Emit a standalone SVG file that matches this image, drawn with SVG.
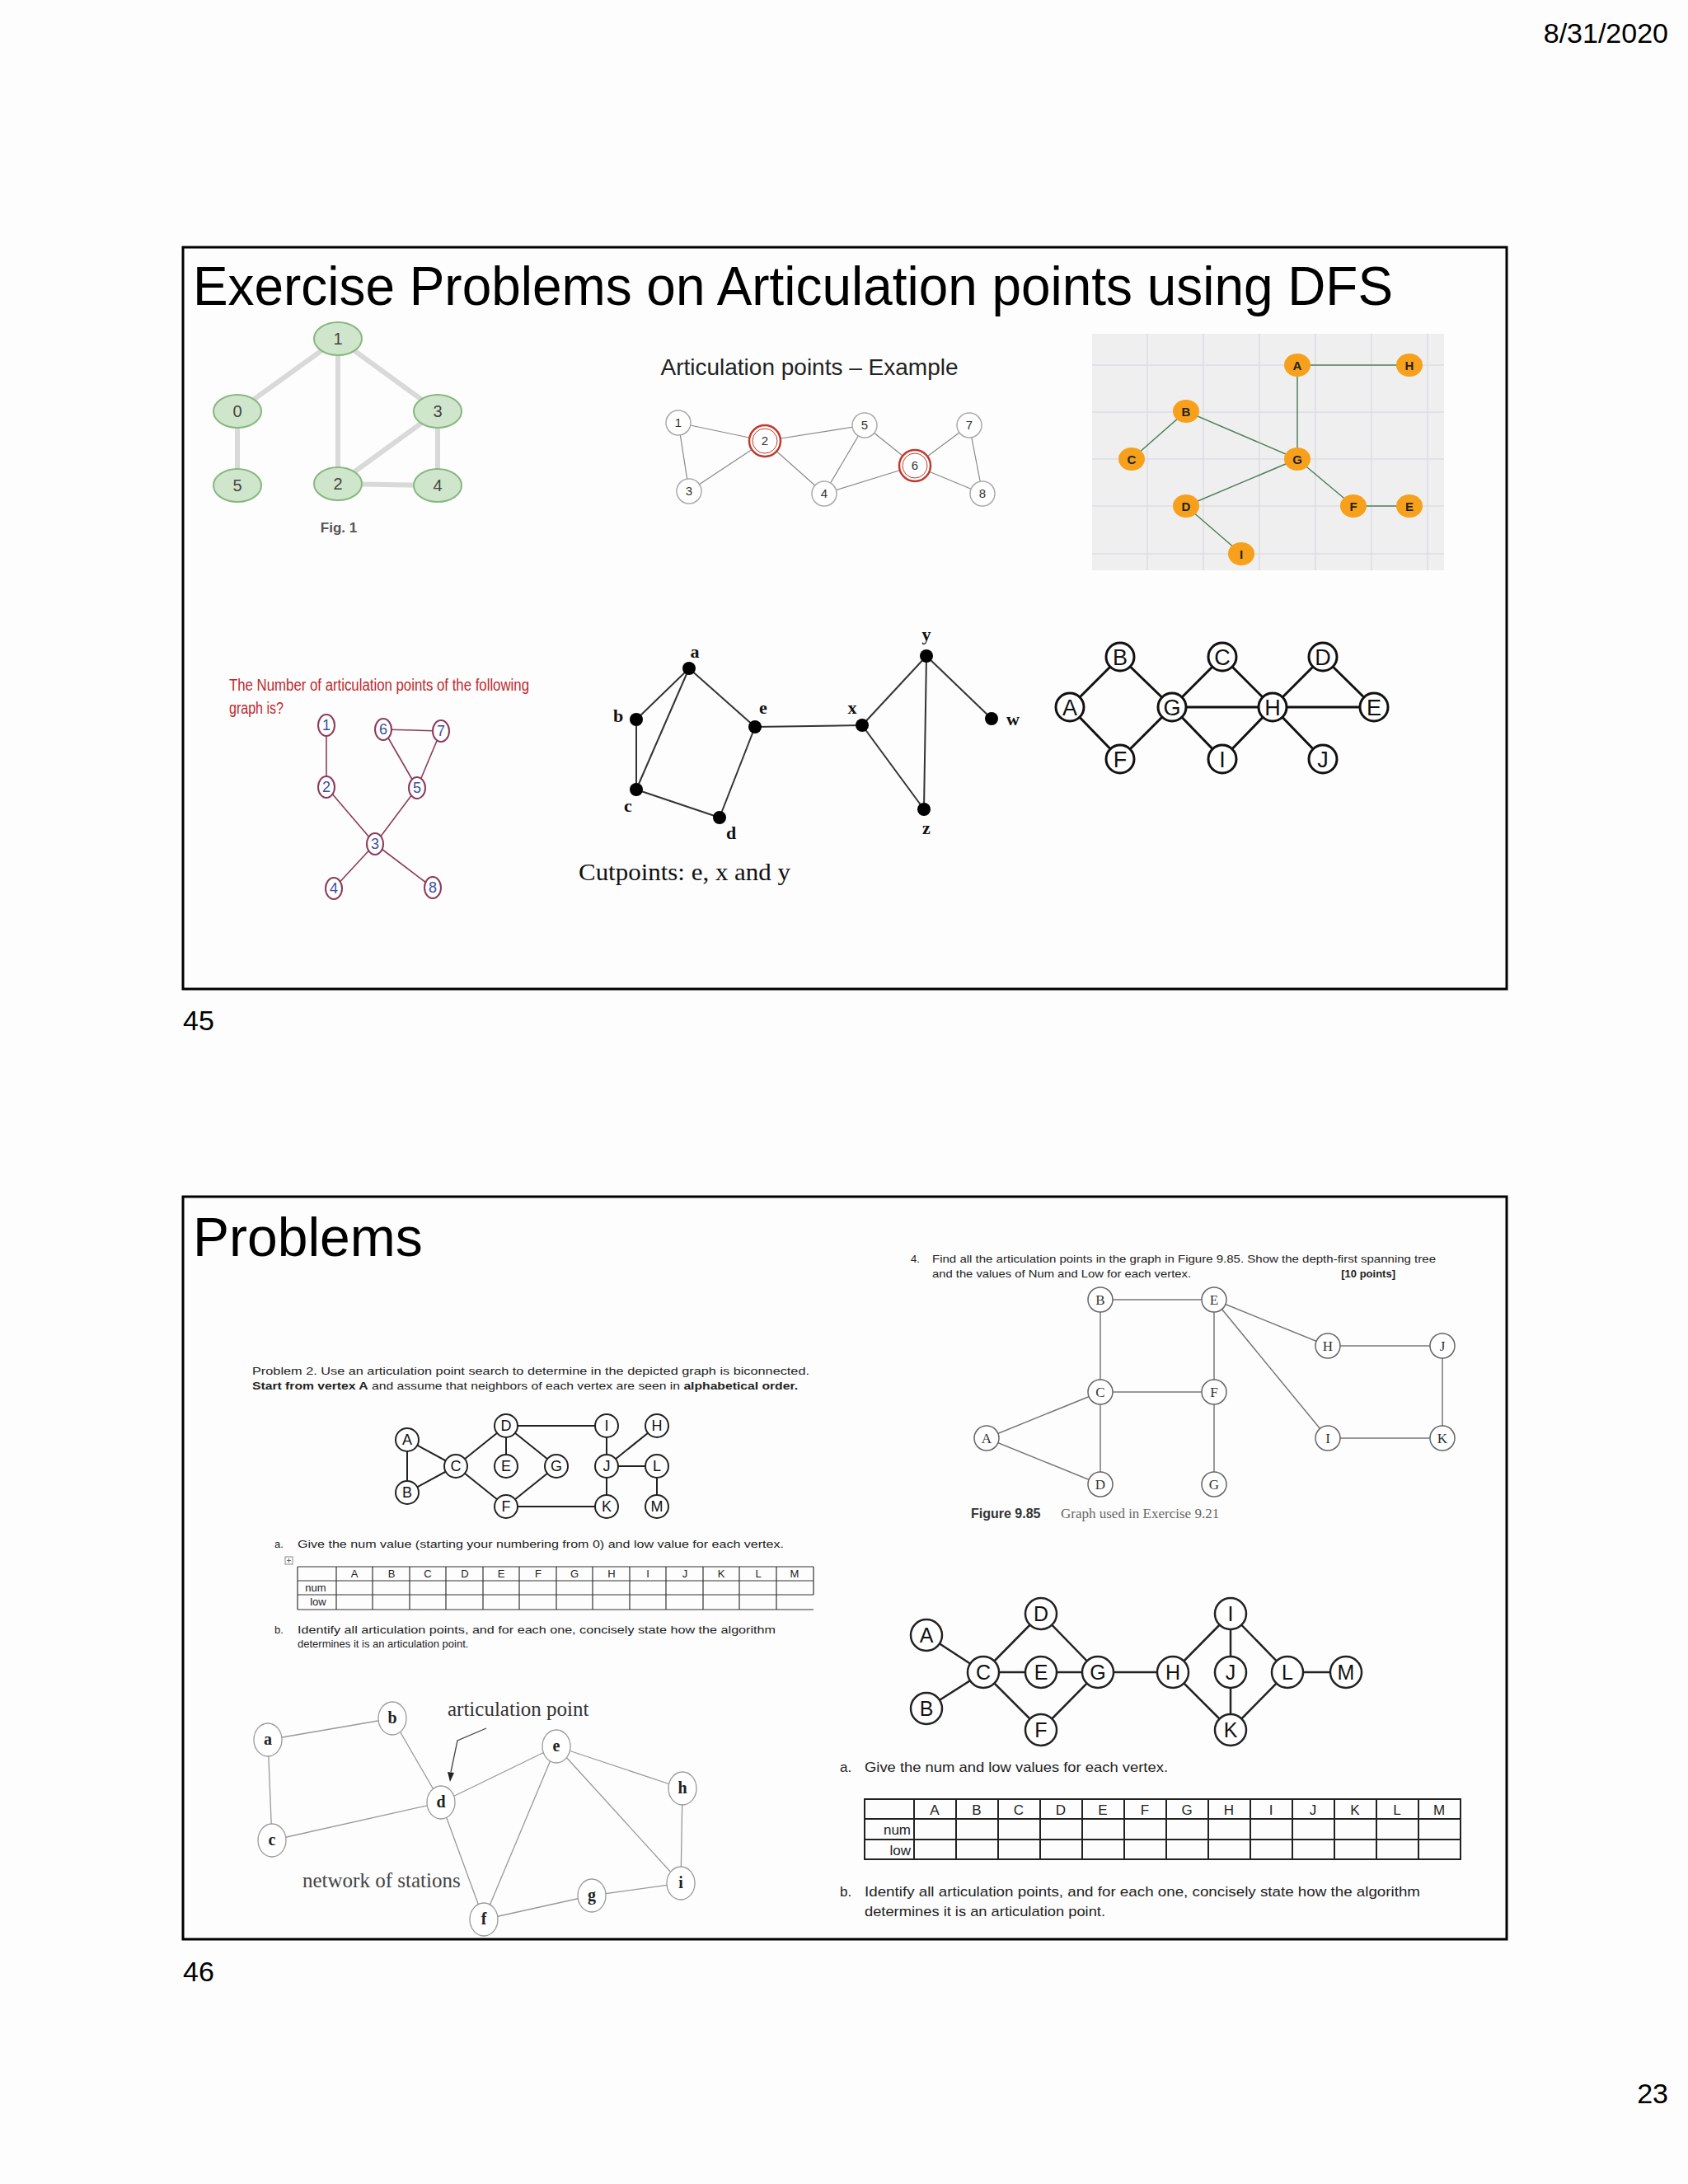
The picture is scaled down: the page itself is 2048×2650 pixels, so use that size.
<svg xmlns="http://www.w3.org/2000/svg" width="2048" height="2650" viewBox="0 0 2048 2650">
<style>
text{font-family:"Liberation Sans",Arial,sans-serif}
text.serif{font-family:"Liberation Serif","Times New Roman",serif}
.frame{fill:none;stroke:#000;stroke-width:3}
.big{font-size:66px;fill:#000}
.pg{font-size:34px;fill:#000}
.g1e{stroke:#d9d9d9;stroke-width:6;fill:none}
.g1n{fill:#d0e6cc;stroke:#86b87e;stroke-width:2}
.g1t{font-size:20px;fill:#444;text-anchor:middle}
.g2e{stroke:#888;stroke-width:1.2;fill:none}
.g2n{fill:#fff;stroke:#aaa;stroke-width:1.5}
.g2t{font-size:15px;fill:#333;text-anchor:middle}
.g3e{stroke:#4f7f5f;stroke-width:1.5;fill:none}
.g3n{fill:#f7a01b}
.g3t{font-size:15px;font-weight:bold;fill:#222;text-anchor:middle}
.g4e{stroke:#8b3a5a;stroke-width:1.6;fill:none}
.g4n{fill:#fff;stroke:#8b3a5a;stroke-width:2}
.g4t{font-size:18px;fill:#3a4fa0;text-anchor:middle}
.g5e{stroke:#333;stroke-width:2;fill:none}
text.g5t{font-family:"Liberation Serif",serif;font-size:22px;font-weight:bold;fill:#111;text-anchor:middle}
.g6e{stroke:#111;stroke-width:3;fill:none}
.g6n{fill:#fff;stroke:#111;stroke-width:3}
.g6t{font-size:27px;fill:#111;text-anchor:middle}
.g7e{stroke:#777;stroke-width:1.5;fill:none}
.g7n{fill:#fff;stroke:#666;stroke-width:1.5}
text.g7t{font-family:"Liberation Serif",serif;font-size:17px;fill:#333;text-anchor:middle}
.g8e{stroke:#222;stroke-width:2;fill:none}
.g8n{fill:#fff;stroke:#222;stroke-width:2}
.g8t{font-size:18px;fill:#111;text-anchor:middle}
.g9e{stroke:#999;stroke-width:1.3;fill:none}
.g9n{fill:#fff;stroke:#999;stroke-width:1.3}
text.g9t{font-family:"Liberation Serif",serif;font-size:20px;font-weight:bold;fill:#222;text-anchor:middle}
.gae{stroke:#222;stroke-width:2.5;fill:none}
.gan{fill:#fff;stroke:#222;stroke-width:2.5}
.gat{font-size:25px;fill:#111;text-anchor:middle}
.sm{font-size:13px;fill:#222}
.md{font-size:17px;fill:#222}
.tb{stroke:#333;stroke-width:1.2;fill:none}
.tb2{stroke:#222;stroke-width:2;fill:none}
</style>
<rect width="2048" height="2650" fill="#fdfdfd"/>
<text x="2024" y="52" class="pg" text-anchor="end">8/31/2020</text>

<!-- Slide 45 -->
<rect class="frame" x="222" y="300" width="1606" height="900"/>
<text x="234" y="370" class="big" textLength="1456" lengthAdjust="spacingAndGlyphs">Exercise Problems on Articulation points using DFS</text>
<text x="222" y="1250" class="pg">45</text>

<!-- Fig 1 -->
<g id="fig1">
<g id="fig1-edges">
<line class="g1e" x1="410" y1="411" x2="288" y2="499"/>
<line class="g1e" x1="410" y1="411" x2="410" y2="587"/>
<line class="g1e" x1="410" y1="411" x2="531" y2="499"/>
<line class="g1e" x1="288" y1="499" x2="288" y2="589"/>
<line class="g1e" x1="410" y1="587" x2="531" y2="499"/>
<line class="g1e" x1="531" y1="499" x2="531" y2="589"/>
<line class="g1e" x1="410" y1="587" x2="531" y2="589"/>
</g>
<g id="f1-n1"><ellipse class="g1n" cx="410" cy="411" rx="29" ry="20"/><text class="g1t" x="410" y="418">1</text></g>
<g id="f1-n0"><ellipse class="g1n" cx="288" cy="499" rx="29" ry="20"/><text class="g1t" x="288" y="506">0</text></g>
<g id="f1-n3"><ellipse class="g1n" cx="531" cy="499" rx="29" ry="20"/><text class="g1t" x="531" y="506">3</text></g>
<g id="f1-n5"><ellipse class="g1n" cx="288" cy="589" rx="29" ry="20"/><text class="g1t" x="288" y="596">5</text></g>
<g id="f1-n2"><ellipse class="g1n" cx="410" cy="587" rx="29" ry="20"/><text class="g1t" x="410" y="594">2</text></g>
<g id="f1-n4"><ellipse class="g1n" cx="531" cy="589" rx="29" ry="20"/><text class="g1t" x="531" y="596">4</text></g>
<text x="411" y="646" font-size="17" font-weight="bold" fill="#555" text-anchor="middle">Fig. 1</text>
</g>

<!-- Articulation points example -->
<g id="ap-example">
<text x="982" y="455" font-size="28" fill="#222" text-anchor="middle">Articulation points – Example</text>
<g id="ap-edges">
<line class="g2e" x1="823" y1="513" x2="928" y2="535"/>
<line class="g2e" x1="823" y1="513" x2="836" y2="596"/>
<line class="g2e" x1="928" y1="535" x2="836" y2="596"/>
<line class="g2e" x1="928" y1="535" x2="1049" y2="516"/>
<line class="g2e" x1="928" y1="535" x2="1000" y2="599"/>
<line class="g2e" x1="1049" y1="516" x2="1000" y2="599"/>
<line class="g2e" x1="1049" y1="516" x2="1110" y2="565"/>
<line class="g2e" x1="1000" y1="599" x2="1110" y2="565"/>
<line class="g2e" x1="1110" y1="565" x2="1176" y2="516"/>
<line class="g2e" x1="1110" y1="565" x2="1192" y2="599"/>
<line class="g2e" x1="1176" y1="516" x2="1192" y2="599"/>
</g>
<g id="ap-1"><circle class="g2n" cx="823" cy="513" r="15"/><text class="g2t" x="823" y="518">1</text></g>
<g id="ap-2"><circle fill="#fff" stroke="#c0392b" stroke-width="2.5" cx="928" cy="535" r="19"/><circle fill="none" stroke="#c0392b" stroke-width="1" cx="928" cy="535" r="15"/><text class="g2t" x="928" y="540">2</text></g>
<g id="ap-5"><circle class="g2n" cx="1049" cy="516" r="15"/><text class="g2t" x="1049" y="521">5</text></g>
<g id="ap-7"><circle class="g2n" cx="1176" cy="516" r="15"/><text class="g2t" x="1176" y="521">7</text></g>
<g id="ap-3"><circle class="g2n" cx="836" cy="596" r="15"/><text class="g2t" x="836" y="601">3</text></g>
<g id="ap-4"><circle class="g2n" cx="1000" cy="599" r="15"/><text class="g2t" x="1000" y="604">4</text></g>
<g id="ap-6"><circle fill="#fff" stroke="#c0392b" stroke-width="2.5" cx="1110" cy="565" r="19"/><circle fill="none" stroke="#c0392b" stroke-width="1" cx="1110" cy="565" r="15"/><text class="g2t" x="1110" y="570">6</text></g>
<g id="ap-8"><circle class="g2n" cx="1192" cy="599" r="15"/><text class="g2t" x="1192" y="604">8</text></g>
</g>

<!-- Orange graph -->
<g id="orange">
<rect x="1325" y="405" width="427" height="287" fill="#efefef"/>
<g stroke="#dcdce6" stroke-width="1.5">
<line x1="1392" y1="405" x2="1392" y2="692"/><line x1="1460" y1="405" x2="1460" y2="692"/><line x1="1528" y1="405" x2="1528" y2="692"/><line x1="1596" y1="405" x2="1596" y2="692"/><line x1="1664" y1="405" x2="1664" y2="692"/><line x1="1732" y1="405" x2="1732" y2="692"/>
<line x1="1325" y1="443" x2="1752" y2="443"/><line x1="1325" y1="500" x2="1752" y2="500"/><line x1="1325" y1="557" x2="1752" y2="557"/><line x1="1325" y1="614" x2="1752" y2="614"/><line x1="1325" y1="672" x2="1752" y2="672"/>
</g>
<g id="or-edges">
<line class="g3e" x1="1574" y1="443" x2="1710" y2="443"/>
<line class="g3e" x1="1574" y1="443" x2="1574" y2="557"/>
<line class="g3e" x1="1439" y1="499" x2="1373" y2="557"/>
<line class="g3e" x1="1439" y1="499" x2="1574" y2="557"/>
<line class="g3e" x1="1574" y1="557" x2="1439" y2="614"/>
<line class="g3e" x1="1574" y1="557" x2="1642" y2="614"/>
<line class="g3e" x1="1642" y1="614" x2="1710" y2="614"/>
<line class="g3e" x1="1439" y1="614" x2="1506" y2="672"/>
</g>
<g id="or-A"><ellipse class="g3n" cx="1574" cy="443" rx="16" ry="14"/><text class="g3t" x="1574" y="449">A</text></g>
<g id="or-H"><ellipse class="g3n" cx="1710" cy="443" rx="16" ry="14"/><text class="g3t" x="1710" y="449">H</text></g>
<g id="or-B"><ellipse class="g3n" cx="1439" cy="499" rx="16" ry="14"/><text class="g3t" x="1439" y="505">B</text></g>
<g id="or-C"><ellipse class="g3n" cx="1373" cy="557" rx="16" ry="14"/><text class="g3t" x="1373" y="563">C</text></g>
<g id="or-G"><ellipse class="g3n" cx="1574" cy="557" rx="16" ry="14"/><text class="g3t" x="1574" y="563">G</text></g>
<g id="or-D"><ellipse class="g3n" cx="1439" cy="614" rx="16" ry="14"/><text class="g3t" x="1439" y="620">D</text></g>
<g id="or-F"><ellipse class="g3n" cx="1642" cy="614" rx="16" ry="14"/><text class="g3t" x="1642" y="620">F</text></g>
<g id="or-E"><ellipse class="g3n" cx="1710" cy="614" rx="16" ry="14"/><text class="g3t" x="1710" y="620">E</text></g>
<g id="or-I"><ellipse class="g3n" cx="1506" cy="672" rx="16" ry="14"/><text class="g3t" x="1506" y="678">I</text></g>
</g>

<!-- Red question graph -->
<g id="redq">
<text x="278" y="838" font-size="20" fill="#c0282d" textLength="364" lengthAdjust="spacingAndGlyphs">The Number of articulation points of the following</text>
<text x="278" y="866" font-size="20" fill="#c0282d" textLength="66" lengthAdjust="spacingAndGlyphs">graph is?</text>
<g id="rq-edges">
<line class="g4e" x1="396" y1="880" x2="396" y2="955"/>
<line class="g4e" x1="396" y1="955" x2="455" y2="1024"/>
<line class="g4e" x1="455" y1="1024" x2="506" y2="956"/>
<line class="g4e" x1="506" y1="956" x2="465" y2="885"/>
<line class="g4e" x1="506" y1="956" x2="535" y2="887"/>
<line class="g4e" x1="465" y1="885" x2="535" y2="887"/>
<line class="g4e" x1="455" y1="1024" x2="405" y2="1078"/>
<line class="g4e" x1="455" y1="1024" x2="525" y2="1077"/>
</g>
<g id="rq-1"><ellipse class="g4n" cx="396" cy="880" rx="10" ry="13"/><text class="g4t" x="396" y="886">1</text></g>
<g id="rq-6"><ellipse class="g4n" cx="465" cy="885" rx="10" ry="13"/><text class="g4t" x="465" y="891">6</text></g>
<g id="rq-7"><ellipse class="g4n" cx="535" cy="887" rx="10" ry="13"/><text class="g4t" x="535" y="893">7</text></g>
<g id="rq-2"><ellipse class="g4n" cx="396" cy="955" rx="10" ry="13"/><text class="g4t" x="396" y="961">2</text></g>
<g id="rq-5"><ellipse class="g4n" cx="506" cy="956" rx="10" ry="13"/><text class="g4t" x="506" y="962">5</text></g>
<g id="rq-3"><ellipse class="g4n" cx="455" cy="1024" rx="10" ry="13"/><text class="g4t" x="455" y="1030">3</text></g>
<g id="rq-4"><ellipse class="g4n" cx="405" cy="1078" rx="10" ry="13"/><text class="g4t" x="405" y="1084">4</text></g>
<g id="rq-8"><ellipse class="g4n" cx="525" cy="1077" rx="10" ry="13"/><text class="g4t" x="525" y="1083">8</text></g>
</g>

<!-- Cutpoints graph -->
<g id="cutpoints">
<g id="cp-edges">
<line class="g5e" x1="836" y1="811" x2="772" y2="873"/>
<line class="g5e" x1="836" y1="811" x2="772" y2="958"/>
<line class="g5e" x1="836" y1="811" x2="916" y2="882"/>
<line class="g5e" x1="772" y1="873" x2="772" y2="958"/>
<line class="g5e" x1="772" y1="958" x2="873" y2="992"/>
<line class="g5e" x1="873" y1="992" x2="916" y2="882"/>
<line class="g5e" x1="916" y1="882" x2="1046" y2="880"/>
<line class="g5e" x1="1046" y1="880" x2="1124" y2="796"/>
<line class="g5e" x1="1046" y1="880" x2="1121" y2="982"/>
<line class="g5e" x1="1124" y1="796" x2="1121" y2="982"/>
<line class="g5e" x1="1124" y1="796" x2="1203" y2="872"/>
</g>
<g id="cp-a"><circle cx="836" cy="811" r="8" fill="#000"/><text class="g5t" x="843" y="798">a</text></g>
<g id="cp-b"><circle cx="772" cy="873" r="8" fill="#000"/><text class="g5t" x="750" y="876">b</text></g>
<g id="cp-e"><circle cx="916" cy="882" r="8" fill="#000"/><text class="g5t" x="926" y="866">e</text></g>
<g id="cp-x"><circle cx="1046" cy="880" r="8" fill="#000"/><text class="g5t" x="1034" y="866">x</text></g>
<g id="cp-y"><circle cx="1124" cy="796" r="8" fill="#000"/><text class="g5t" x="1124" y="777">y</text></g>
<g id="cp-w"><circle cx="1203" cy="872" r="8" fill="#000"/><text class="g5t" x="1229" y="880">w</text></g>
<g id="cp-c"><circle cx="772" cy="958" r="8" fill="#000"/><text class="g5t" x="762" y="985">c</text></g>
<g id="cp-d"><circle cx="873" cy="992" r="8" fill="#000"/><text class="g5t" x="887" y="1018">d</text></g>
<g id="cp-z"><circle cx="1121" cy="982" r="8" fill="#000"/><text class="g5t" x="1124" y="1012">z</text></g>
<text class="serif" x="702" y="1068" font-size="30" fill="#111" textLength="257" lengthAdjust="spacingAndGlyphs">Cutpoints: e, x and y</text>
</g>

<!-- A..J graph -->
<g id="ajgraph">
<g id="aj-edges">
<line class="g6e" x1="1298" y1="858" x2="1359" y2="797"/>
<line class="g6e" x1="1298" y1="858" x2="1359" y2="921"/>
<line class="g6e" x1="1359" y1="797" x2="1422" y2="858"/>
<line class="g6e" x1="1359" y1="921" x2="1422" y2="858"/>
<line class="g6e" x1="1422" y1="858" x2="1483" y2="797"/>
<line class="g6e" x1="1422" y1="858" x2="1544" y2="858"/>
<line class="g6e" x1="1422" y1="858" x2="1483" y2="921"/>
<line class="g6e" x1="1483" y1="797" x2="1544" y2="858"/>
<line class="g6e" x1="1483" y1="921" x2="1544" y2="858"/>
<line class="g6e" x1="1544" y1="858" x2="1605" y2="797"/>
<line class="g6e" x1="1544" y1="858" x2="1667" y2="858"/>
<line class="g6e" x1="1544" y1="858" x2="1605" y2="921"/>
<line class="g6e" x1="1605" y1="797" x2="1667" y2="858"/>
</g>
<g id="aj-B"><circle class="g6n" cx="1359" cy="797" r="17"/><text class="g6t" x="1359" y="807">B</text></g>
<g id="aj-C"><circle class="g6n" cx="1483" cy="797" r="17"/><text class="g6t" x="1483" y="807">C</text></g>
<g id="aj-D"><circle class="g6n" cx="1605" cy="797" r="17"/><text class="g6t" x="1605" y="807">D</text></g>
<g id="aj-A"><circle class="g6n" cx="1298" cy="858" r="17"/><text class="g6t" x="1298" y="868">A</text></g>
<g id="aj-G"><circle class="g6n" cx="1422" cy="858" r="17"/><text class="g6t" x="1422" y="868">G</text></g>
<g id="aj-H"><circle class="g6n" cx="1544" cy="858" r="17"/><text class="g6t" x="1544" y="868">H</text></g>
<g id="aj-E"><circle class="g6n" cx="1667" cy="858" r="17"/><text class="g6t" x="1667" y="868">E</text></g>
<g id="aj-F"><circle class="g6n" cx="1359" cy="921" r="17"/><text class="g6t" x="1359" y="931">F</text></g>
<g id="aj-I"><circle class="g6n" cx="1483" cy="921" r="17"/><text class="g6t" x="1483" y="931">I</text></g>
<g id="aj-J"><circle class="g6n" cx="1605" cy="921" r="17"/><text class="g6t" x="1605" y="931">J</text></g>
</g>

<!-- Slide 46 -->
<rect class="frame" x="222" y="1452" width="1606" height="901"/>
<text x="234" y="1524" class="big">Problems</text>
<text x="222" y="2404" class="pg">46</text>

<!-- Problem 4 -->
<g id="prob4">
<text x="1105" y="1532" class="sm">4.</text>
<text x="1131" y="1532" class="sm" textLength="611" lengthAdjust="spacingAndGlyphs">Find all the articulation points in the graph in Figure 9.85. Show the depth-first spanning tree</text>
<text x="1131" y="1550" class="sm" textLength="314" lengthAdjust="spacingAndGlyphs">and the values of Num and Low for each vertex.</text>
<text x="1693" y="1550" class="sm" font-weight="bold" text-anchor="end">[10 points]</text>
<g id="p4-edges">
<line class="g7e" x1="1335" y1="1577" x2="1473" y2="1577"/>
<line class="g7e" x1="1335" y1="1577" x2="1335" y2="1801"/>
<line class="g7e" x1="1473" y1="1577" x2="1473" y2="1801"/>
<line class="g7e" x1="1473" y1="1577" x2="1611" y2="1633"/>
<line class="g7e" x1="1473" y1="1577" x2="1611" y2="1745"/>
<line class="g7e" x1="1611" y1="1633" x2="1750" y2="1633"/>
<line class="g7e" x1="1750" y1="1633" x2="1750" y2="1745"/>
<line class="g7e" x1="1611" y1="1745" x2="1750" y2="1745"/>
<line class="g7e" x1="1335" y1="1689" x2="1473" y2="1689"/>
<line class="g7e" x1="1335" y1="1689" x2="1197" y2="1745"/>
<line class="g7e" x1="1197" y1="1745" x2="1335" y2="1801"/>
</g>
<g id="p4-B"><circle class="g7n" cx="1335" cy="1577" r="15"/><text class="g7t" x="1335" y="1583">B</text></g>
<g id="p4-E"><circle class="g7n" cx="1473" cy="1577" r="15"/><text class="g7t" x="1473" y="1583">E</text></g>
<g id="p4-H"><circle class="g7n" cx="1611" cy="1633" r="15"/><text class="g7t" x="1611" y="1639">H</text></g>
<g id="p4-J"><circle class="g7n" cx="1750" cy="1633" r="15"/><text class="g7t" x="1750" y="1639">J</text></g>
<g id="p4-C"><circle class="g7n" cx="1335" cy="1689" r="15"/><text class="g7t" x="1335" y="1695">C</text></g>
<g id="p4-F"><circle class="g7n" cx="1473" cy="1689" r="15"/><text class="g7t" x="1473" y="1695">F</text></g>
<g id="p4-A"><circle class="g7n" cx="1197" cy="1745" r="15"/><text class="g7t" x="1197" y="1751">A</text></g>
<g id="p4-I"><circle class="g7n" cx="1611" cy="1745" r="15"/><text class="g7t" x="1611" y="1751">I</text></g>
<g id="p4-K"><circle class="g7n" cx="1750" cy="1745" r="15"/><text class="g7t" x="1750" y="1751">K</text></g>
<g id="p4-D"><circle class="g7n" cx="1335" cy="1801" r="15"/><text class="g7t" x="1335" y="1807">D</text></g>
<g id="p4-G"><circle class="g7n" cx="1473" cy="1801" r="15"/><text class="g7t" x="1473" y="1807">G</text></g>
<text x="1178" y="1842" font-size="16" font-weight="bold" fill="#333">Figure 9.85</text>
<text class="serif" x="1287" y="1842" font-size="17" fill="#666">Graph used in Exercise 9.21</text>
</g>

<!-- Problem 2 -->
<g id="prob2">
<text x="306" y="1668" class="sm" textLength="676" lengthAdjust="spacingAndGlyphs">Problem 2.  Use an articulation point search to determine in the depicted graph is biconnected.</text>
<text x="306" y="1686" class="sm" textLength="662" lengthAdjust="spacingAndGlyphs"><tspan font-weight="bold">Start from vertex A</tspan> and assume that neighbors of each vertex are seen in <tspan font-weight="bold">alphabetical order.</tspan></text>
<g id="p2-edges">
<line class="g8e" x1="494" y1="1747" x2="494" y2="1811"/>
<line class="g8e" x1="494" y1="1747" x2="553" y2="1779"/>
<line class="g8e" x1="494" y1="1811" x2="553" y2="1779"/>
<line class="g8e" x1="553" y1="1779" x2="614" y2="1730"/>
<line class="g8e" x1="553" y1="1779" x2="614" y2="1828"/>
<line class="g8e" x1="614" y1="1730" x2="614" y2="1779"/>
<line class="g8e" x1="614" y1="1730" x2="675" y2="1779"/>
<line class="g8e" x1="614" y1="1730" x2="736" y2="1730"/>
<line class="g8e" x1="614" y1="1828" x2="675" y2="1779"/>
<line class="g8e" x1="614" y1="1828" x2="736" y2="1828"/>
<line class="g8e" x1="736" y1="1730" x2="736" y2="1828"/>
<line class="g8e" x1="736" y1="1779" x2="797" y2="1730"/>
<line class="g8e" x1="736" y1="1779" x2="797" y2="1779"/>
<line class="g8e" x1="797" y1="1779" x2="797" y2="1828"/>
</g>
<g id="p2-A"><circle class="g8n" cx="494" cy="1747" r="14"/><text class="g8t" x="494" y="1753">A</text></g>
<g id="p2-D"><circle class="g8n" cx="614" cy="1730" r="14"/><text class="g8t" x="614" y="1736">D</text></g>
<g id="p2-I"><circle class="g8n" cx="736" cy="1730" r="14"/><text class="g8t" x="736" y="1736">I</text></g>
<g id="p2-H"><circle class="g8n" cx="797" cy="1730" r="14"/><text class="g8t" x="797" y="1736">H</text></g>
<g id="p2-C"><circle class="g8n" cx="553" cy="1779" r="14"/><text class="g8t" x="553" y="1785">C</text></g>
<g id="p2-E"><circle class="g8n" cx="614" cy="1779" r="14"/><text class="g8t" x="614" y="1785">E</text></g>
<g id="p2-G"><circle class="g8n" cx="675" cy="1779" r="14"/><text class="g8t" x="675" y="1785">G</text></g>
<g id="p2-J"><circle class="g8n" cx="736" cy="1779" r="14"/><text class="g8t" x="736" y="1785">J</text></g>
<g id="p2-L"><circle class="g8n" cx="797" cy="1779" r="14"/><text class="g8t" x="797" y="1785">L</text></g>
<g id="p2-B"><circle class="g8n" cx="494" cy="1811" r="14"/><text class="g8t" x="494" y="1817">B</text></g>
<g id="p2-F"><circle class="g8n" cx="614" cy="1828" r="14"/><text class="g8t" x="614" y="1834">F</text></g>
<g id="p2-K"><circle class="g8n" cx="736" cy="1828" r="14"/><text class="g8t" x="736" y="1834">K</text></g>
<g id="p2-M"><circle class="g8n" cx="797" cy="1828" r="14"/><text class="g8t" x="797" y="1834">M</text></g>
<text x="333" y="1878" class="sm">a.</text>
<text x="361" y="1878" class="sm" textLength="590" lengthAdjust="spacingAndGlyphs">Give the num value (starting your numbering from 0) and low value for each vertex.</text>
<rect x="346" y="1889" width="9" height="9" fill="none" stroke="#888" stroke-width="1"/>
<path d="M350.5 1891v5M348 1893.5h5" stroke="#666" stroke-width="1"/>
<g class="tb">
<line x1="361" y1="1901" x2="987" y2="1901"/><line x1="361" y1="1918" x2="987" y2="1918"/><line x1="361" y1="1935" x2="987" y2="1935"/><line x1="361" y1="1953" x2="987" y2="1953"/>
<line x1="361" y1="1901" x2="361" y2="1953"/><line x1="408" y1="1901" x2="408" y2="1953"/><line x1="452" y1="1901" x2="452" y2="1953"/><line x1="497" y1="1901" x2="497" y2="1953"/><line x1="541" y1="1901" x2="541" y2="1953"/><line x1="586" y1="1901" x2="586" y2="1953"/><line x1="630" y1="1901" x2="630" y2="1953"/><line x1="675" y1="1901" x2="675" y2="1953"/><line x1="719" y1="1901" x2="719" y2="1953"/><line x1="764" y1="1901" x2="764" y2="1953"/><line x1="808" y1="1901" x2="808" y2="1953"/><line x1="853" y1="1901" x2="853" y2="1953"/><line x1="897" y1="1901" x2="897" y2="1953"/><line x1="942" y1="1901" x2="942" y2="1953"/><line x1="987" y1="1901" x2="987" y2="1935"/>
</g>
<g class="sm" text-anchor="middle">
<text x="430" y="1914">A</text><text x="475" y="1914">B</text><text x="519" y="1914">C</text><text x="564" y="1914">D</text><text x="608" y="1914">E</text><text x="653" y="1914">F</text><text x="697" y="1914">G</text><text x="742" y="1914">H</text><text x="786" y="1914">I</text><text x="831" y="1914">J</text><text x="875" y="1914">K</text><text x="920" y="1914">L</text><text x="964" y="1914">M</text>
<text x="383" y="1931">num</text><text x="386" y="1948">low</text>
</g>
<text x="333" y="1982" class="sm">b.</text>
<text x="361" y="1982" class="sm" textLength="580" lengthAdjust="spacingAndGlyphs">Identify all articulation points, and for each one, concisely state how the algorithm</text>
<text x="361" y="1999" class="sm">determines it is an articulation point.</text>
</g>

<!-- Network of stations -->
<g id="network">
<g id="nw-edges">
<line class="g9e" x1="325" y1="2111" x2="476" y2="2085"/>
<line class="g9e" x1="325" y1="2111" x2="330" y2="2233"/>
<line class="g9e" x1="476" y1="2085" x2="535" y2="2187"/>
<line class="g9e" x1="330" y1="2233" x2="535" y2="2187"/>
<line class="g9e" x1="535" y1="2187" x2="675" y2="2119"/>
<line class="g9e" x1="535" y1="2187" x2="587" y2="2329"/>
<line class="g9e" x1="675" y1="2119" x2="587" y2="2329"/>
<line class="g9e" x1="675" y1="2119" x2="828" y2="2170"/>
<line class="g9e" x1="675" y1="2119" x2="826" y2="2285"/>
<line class="g9e" x1="828" y1="2170" x2="826" y2="2285"/>
<line class="g9e" x1="587" y1="2329" x2="718" y2="2300"/>
<line class="g9e" x1="718" y1="2300" x2="826" y2="2285"/>
<polyline points="590,2097 555,2112 547,2150" fill="none" stroke="#444" stroke-width="1.3"/>
<path d="M543 2150 L551 2151 L546 2162 Z" fill="#222"/>
</g>
<g id="nw-a"><ellipse class="g9n" cx="325" cy="2111" rx="17" ry="20"/><text class="g9t" x="325" y="2117">a</text></g>
<g id="nw-b"><ellipse class="g9n" cx="476" cy="2085" rx="17" ry="20"/><text class="g9t" x="476" y="2091">b</text></g>
<g id="nw-e"><ellipse class="g9n" cx="675" cy="2119" rx="17" ry="20"/><text class="g9t" x="675" y="2125">e</text></g>
<g id="nw-h"><ellipse class="g9n" cx="828" cy="2170" rx="17" ry="20"/><text class="g9t" x="828" y="2176">h</text></g>
<g id="nw-d"><ellipse class="g9n" cx="535" cy="2187" rx="17" ry="20"/><text class="g9t" x="535" y="2193">d</text></g>
<g id="nw-c"><ellipse class="g9n" cx="330" cy="2233" rx="17" ry="20"/><text class="g9t" x="330" y="2239">c</text></g>
<g id="nw-i"><ellipse class="g9n" cx="826" cy="2285" rx="17" ry="20"/><text class="g9t" x="826" y="2291">i</text></g>
<g id="nw-g"><ellipse class="g9n" cx="718" cy="2300" rx="17" ry="20"/><text class="g9t" x="718" y="2306">g</text></g>
<g id="nw-f"><ellipse class="g9n" cx="587" cy="2329" rx="17" ry="20"/><text class="g9t" x="587" y="2335">f</text></g>
<text class="serif" x="543" y="2082" font-size="25" fill="#333">articulation point</text>
<text class="serif" x="367" y="2290" font-size="25" fill="#444">network of stations</text>
</g>

<!-- Bottom-right graph -->
<g id="prob5">
<g id="p5-edges">
<line class="gae" x1="1124" y1="1984" x2="1193" y2="2029"/>
<line class="gae" x1="1124" y1="2073" x2="1193" y2="2029"/>
<line class="gae" x1="1193" y1="2029" x2="1263" y2="1958"/>
<line class="gae" x1="1193" y1="2029" x2="1263" y2="2029"/>
<line class="gae" x1="1193" y1="2029" x2="1263" y2="2099"/>
<line class="gae" x1="1263" y1="2029" x2="1332" y2="2029"/>
<line class="gae" x1="1263" y1="1958" x2="1332" y2="2029"/>
<line class="gae" x1="1263" y1="2099" x2="1332" y2="2029"/>
<line class="gae" x1="1332" y1="2029" x2="1423" y2="2029"/>
<line class="gae" x1="1423" y1="2029" x2="1493" y2="1958"/>
<line class="gae" x1="1423" y1="2029" x2="1493" y2="2099"/>
<line class="gae" x1="1493" y1="1958" x2="1493" y2="2099"/>
<line class="gae" x1="1493" y1="1958" x2="1562" y2="2029"/>
<line class="gae" x1="1493" y1="2099" x2="1562" y2="2029"/>
<line class="gae" x1="1562" y1="2029" x2="1633" y2="2029"/>
</g>
<g id="p5-D"><circle class="gan" cx="1263" cy="1958" r="19"/><text class="gat" x="1263" y="1967">D</text></g>
<g id="p5-I"><circle class="gan" cx="1493" cy="1958" r="19"/><text class="gat" x="1493" y="1967">I</text></g>
<g id="p5-A"><circle class="gan" cx="1124" cy="1984" r="19"/><text class="gat" x="1124" y="1993">A</text></g>
<g id="p5-C"><circle class="gan" cx="1193" cy="2029" r="19"/><text class="gat" x="1193" y="2038">C</text></g>
<g id="p5-E"><circle class="gan" cx="1263" cy="2029" r="19"/><text class="gat" x="1263" y="2038">E</text></g>
<g id="p5-G"><circle class="gan" cx="1332" cy="2029" r="19"/><text class="gat" x="1332" y="2038">G</text></g>
<g id="p5-H"><circle class="gan" cx="1423" cy="2029" r="19"/><text class="gat" x="1423" y="2038">H</text></g>
<g id="p5-J"><circle class="gan" cx="1493" cy="2029" r="19"/><text class="gat" x="1493" y="2038">J</text></g>
<g id="p5-L"><circle class="gan" cx="1562" cy="2029" r="19"/><text class="gat" x="1562" y="2038">L</text></g>
<g id="p5-M"><circle class="gan" cx="1633" cy="2029" r="19"/><text class="gat" x="1633" y="2038">M</text></g>
<g id="p5-B"><circle class="gan" cx="1124" cy="2073" r="19"/><text class="gat" x="1124" y="2082">B</text></g>
<g id="p5-F"><circle class="gan" cx="1263" cy="2099" r="19"/><text class="gat" x="1263" y="2108">F</text></g>
<g id="p5-K"><circle class="gan" cx="1493" cy="2099" r="19"/><text class="gat" x="1493" y="2108">K</text></g>
<text x="1019" y="2150" class="md">a.</text>
<text x="1049" y="2150" class="md" textLength="368" lengthAdjust="spacingAndGlyphs">Give the num and low values for each vertex.</text>
<g class="tb2">
<rect x="1049" y="2183" width="723" height="73"/>
<line x1="1049" y1="2207" x2="1772" y2="2207"/><line x1="1049" y1="2232" x2="1772" y2="2232"/>
<line x1="1109" y1="2183" x2="1109" y2="2256"/><line x1="1160" y1="2183" x2="1160" y2="2256"/><line x1="1211" y1="2183" x2="1211" y2="2256"/><line x1="1262" y1="2183" x2="1262" y2="2256"/><line x1="1313" y1="2183" x2="1313" y2="2256"/><line x1="1364" y1="2183" x2="1364" y2="2256"/><line x1="1415" y1="2183" x2="1415" y2="2256"/><line x1="1466" y1="2183" x2="1466" y2="2256"/><line x1="1517" y1="2183" x2="1517" y2="2256"/><line x1="1568" y1="2183" x2="1568" y2="2256"/><line x1="1619" y1="2183" x2="1619" y2="2256"/><line x1="1670" y1="2183" x2="1670" y2="2256"/><line x1="1721" y1="2183" x2="1721" y2="2256"/>
</g>
<g class="md" text-anchor="middle">
<text x="1134" y="2202">A</text><text x="1185" y="2202">B</text><text x="1236" y="2202">C</text><text x="1287" y="2202">D</text><text x="1338" y="2202">E</text><text x="1389" y="2202">F</text><text x="1440" y="2202">G</text><text x="1491" y="2202">H</text><text x="1542" y="2202">I</text><text x="1593" y="2202">J</text><text x="1644" y="2202">K</text><text x="1695" y="2202">L</text><text x="1746" y="2202">M</text>
</g>
<text x="1105" y="2226" class="md" text-anchor="end">num</text>
<text x="1105" y="2251" class="md" text-anchor="end">low</text>
<text x="1019" y="2301" class="md">b.</text>
<text x="1049" y="2301" class="md" textLength="674" lengthAdjust="spacingAndGlyphs">Identify all articulation points, and for each one, concisely state how the algorithm</text>
<text x="1049" y="2325" class="md" textLength="292" lengthAdjust="spacingAndGlyphs">determines it is an articulation point.</text>
</g>

<text x="2024" y="2552" class="pg" text-anchor="end">23</text>
</svg>
